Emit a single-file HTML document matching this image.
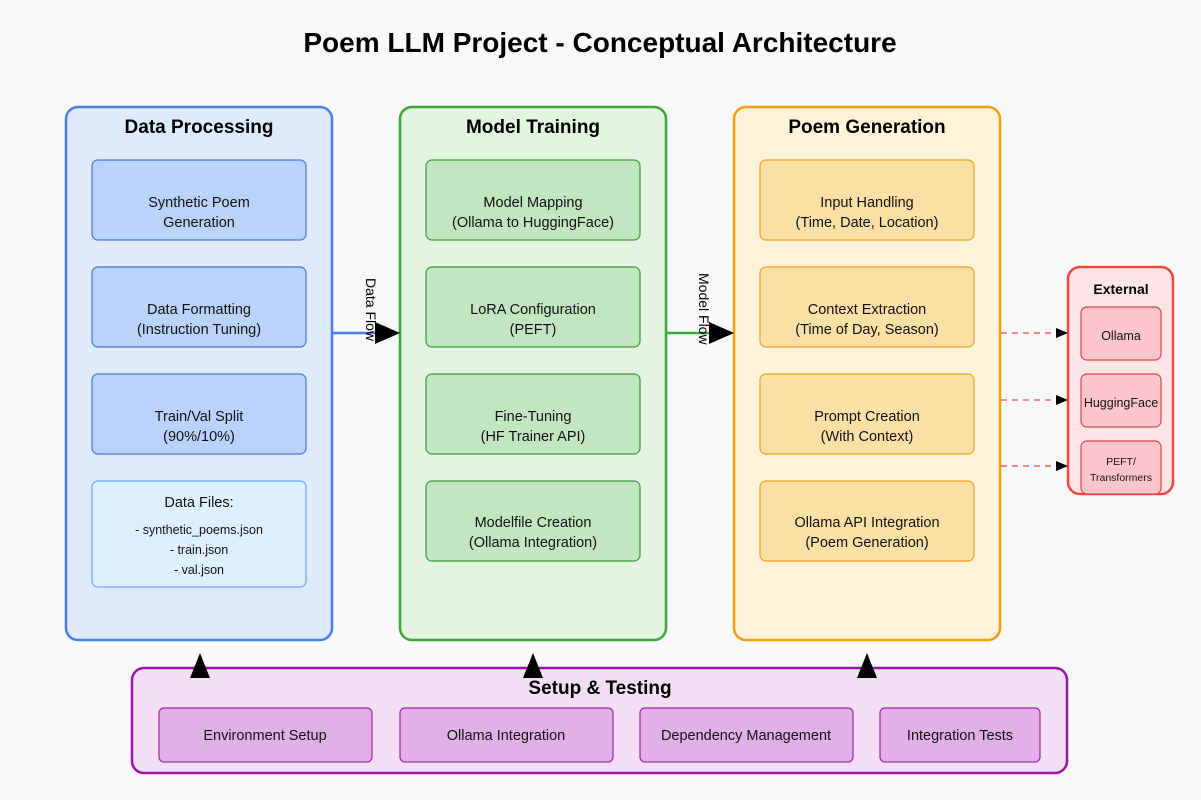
<!DOCTYPE html>
<html><head><meta charset="utf-8"><style>
body{margin:0;background:#f8f9fa;}
svg{display:block;font-family:"Liberation Sans",Arial,sans-serif;}
</style></head><body>
<svg width="1201" height="800" viewBox="0 0 1201 800">
<rect width="1201" height="800" fill="#f8f9fa"/>
<text x="600" y="52" text-anchor="middle" font-size="28" font-weight="bold" fill="#000">Poem LLM Project - Conceptual Architecture</text>

<!-- columns -->
<rect x="66" y="107" width="266" height="533" rx="12" fill="#dfeafd" stroke="#4a7ef0" stroke-width="2.5"/>
<text x="199" y="133" text-anchor="middle" font-size="19" font-weight="bold">Data Processing</text>
<rect x="400" y="107" width="266" height="533" rx="12" fill="#e3f4e1" stroke="#3ba738" stroke-width="2.5"/>
<text x="533" y="133" text-anchor="middle" font-size="19" font-weight="bold">Model Training</text>
<rect x="734" y="107" width="266" height="533" rx="12" fill="#fdf3d8" stroke="#f29d12" stroke-width="2.5"/>
<text x="867" y="133" text-anchor="middle" font-size="19" font-weight="bold">Poem Generation</text>

<g font-size="14.5" text-anchor="middle" fill="#111">
<!-- DP -->
<g fill="#b9d3fb" stroke="#4a72d8" stroke-width="1.2">
<rect x="92" y="160" width="214" height="80" rx="6"/>
<rect x="92" y="267" width="214" height="80" rx="6"/>
<rect x="92" y="374" width="214" height="80" rx="6"/>
</g>
<rect x="92" y="481" width="214" height="106" rx="6" fill="#def0fe" stroke="#6aa4f0" stroke-width="1.2"/>
<text x="199" y="207">Synthetic Poem</text><text x="199" y="227">Generation</text>
<text x="199" y="314">Data Formatting</text><text x="199" y="334">(Instruction Tuning)</text>
<text x="199" y="421">Train/Val Split</text><text x="199" y="441">(90%/10%)</text>
<text x="199" y="507">Data Files:</text>
<text x="199" y="534" font-size="12.5">- synthetic_poems.json</text>
<text x="199" y="554" font-size="12.5">- train.json</text>
<text x="199" y="574" font-size="12.5">- val.json</text>
<!-- MT -->
<g fill="#c1e6c0" stroke="#3b9a38" stroke-width="1.2">
<rect x="426" y="160" width="214" height="80" rx="6"/>
<rect x="426" y="267" width="214" height="80" rx="6"/>
<rect x="426" y="374" width="214" height="80" rx="6"/>
<rect x="426" y="481" width="214" height="80" rx="6"/>
</g>
<text x="533" y="207">Model Mapping</text><text x="533" y="227">(Ollama to HuggingFace)</text>
<text x="533" y="314">LoRA Configuration</text><text x="533" y="334">(PEFT)</text>
<text x="533" y="421">Fine-Tuning</text><text x="533" y="441">(HF Trainer API)</text>
<text x="533" y="527">Modelfile Creation</text><text x="533" y="547">(Ollama Integration)</text>
<!-- PG -->
<g fill="#fae0a4" stroke="#f0a020" stroke-width="1.2">
<rect x="760" y="160" width="214" height="80" rx="6"/>
<rect x="760" y="267" width="214" height="80" rx="6"/>
<rect x="760" y="374" width="214" height="80" rx="6"/>
<rect x="760" y="481" width="214" height="80" rx="6"/>
</g>
<text x="867" y="207">Input Handling</text><text x="867" y="227">(Time, Date, Location)</text>
<text x="867" y="314">Context Extraction</text><text x="867" y="334">(Time of Day, Season)</text>
<text x="867" y="421">Prompt Creation</text><text x="867" y="441">(With Context)</text>
<text x="867" y="527">Ollama API Integration</text><text x="867" y="547">(Poem Generation)</text>
</g>

<!-- flows -->
<line x1="332" y1="333" x2="378" y2="333" stroke="#4a7ef0" stroke-width="2.5"/>
<polygon points="375,322 400,333 375,344" fill="#000"/>
<text transform="translate(366,278) rotate(90)" font-size="14">Data Flow</text>
<line x1="666" y1="333" x2="712" y2="333" stroke="#3ba738" stroke-width="2.5"/>
<polygon points="709,322 734,333 709,344" fill="#000"/>
<text transform="translate(699,273) rotate(90)" font-size="14">Model Flow</text>

<!-- External -->
<rect x="1068" y="267" width="105" height="227" rx="12" fill="#fde5e7" stroke="#ee4a3c" stroke-width="2.5"/>
<text x="1121" y="294" text-anchor="middle" font-size="14" font-weight="bold">External</text>
<g fill="#fcc5cb" stroke="#d84848" stroke-width="1.2">
<rect x="1081" y="307" width="80" height="53" rx="6"/>
<rect x="1081" y="374" width="80" height="53" rx="6"/>
<rect x="1081" y="441" width="80" height="53" rx="6"/>
</g>
<g text-anchor="middle" fill="#111">
<text x="1121" y="340" font-size="12.5">Ollama</text>
<text x="1121" y="407" font-size="12.5">HuggingFace</text>
<text x="1121" y="465" font-size="10.5">PEFT/</text>
<text x="1121" y="481" font-size="10.5">Transformers</text>
</g>
<g stroke="#ee4a3c" stroke-width="1.3" stroke-dasharray="6,5">
<line x1="1001" y1="333" x2="1058" y2="333"/>
<line x1="1001" y1="400" x2="1058" y2="400"/>
<line x1="1001" y1="466" x2="1058" y2="466"/>
</g>
<g fill="#000">
<polygon points="1056,328 1068,333 1056,338"/>
<polygon points="1056,395 1068,400 1056,405"/>
<polygon points="1056,461 1068,466 1056,471"/>
</g>

<!-- Setup -->
<rect x="132" y="668" width="935" height="105" rx="12" fill="#f2dff4" stroke="#9a14a8" stroke-width="2.5"/>
<text x="600" y="694" text-anchor="middle" font-size="19" font-weight="bold">Setup &amp; Testing</text>
<g fill="#e0b0e6" stroke="#9a2aa8" stroke-width="1.2">
<rect x="159" y="708" width="213" height="54" rx="5"/>
<rect x="400" y="708" width="213" height="54" rx="5"/>
<rect x="640" y="708" width="213" height="54" rx="5"/>
<rect x="880" y="708" width="160" height="54" rx="5"/>
</g>
<g font-size="14.5" text-anchor="middle" fill="#111">
<text x="265" y="740">Environment Setup</text>
<text x="506" y="740">Ollama Integration</text>
<text x="746" y="740">Dependency Management</text>
<text x="960" y="740">Integration Tests</text>
</g>
<g fill="#000">
<polygon points="200,653 190,678 210,678"/>
<polygon points="533,653 523,678 543,678"/>
<polygon points="867,653 857,678 877,678"/>
</g>
</svg>
</body></html>
